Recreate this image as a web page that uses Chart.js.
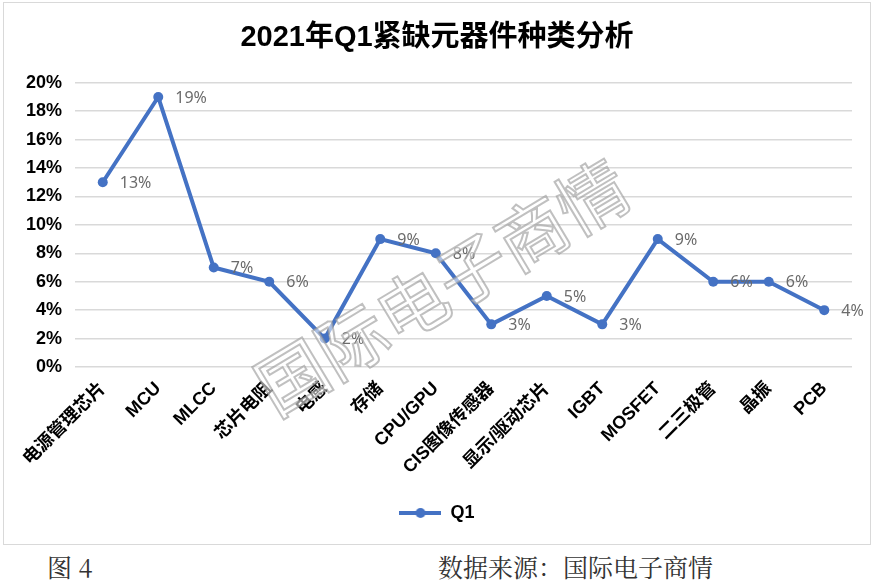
<!DOCTYPE html>
<html lang="zh">
<head>
    <meta charset="UTF-8">
    <title>2021年Q1紧缺元器件种类分析</title>
    <script src="https://cdn.jsdelivr.net/npm/chart.js"></script>
    <style>
        body { margin: 0; background: #fff; }
        #box { position: absolute; left: 3px; top: 2px; width: 866px; height: 541px; border: 1px solid #d9d9d9; }
        .foot { position: absolute; top: 548px; font-family: "Noto Serif CJK SC", "Noto Sans CJK SC", serif; font-size: 25px; color: #333; }
    </style>
</head>
<body>
<div id="box"><canvas id="myChart"></canvas></div>
<div class="foot" style="left:47px;">图 4</div>
<div class="foot" style="left:438px;">数据来源：国际电子商情</div>
<script>
    const categories = ['电源管理芯片', 'MCU', 'MLCC', '芯片电阻', '电感', '存储', 'CPU/GPU', 'CIS图像传感器', '显示/驱动芯片', 'IGBT', 'MOSFET', '二三极管', '晶振', 'PCB'];
    const q1 = [13, 19, 7, 6, 2, 9, 8, 3, 5, 3, 9, 6, 6, 4];
    const yTicks = [0, 2, 4, 6, 8, 10, 12, 14, 16, 18, 20];

    const cjk = '"Liberation Sans", "Noto Sans CJK SC", sans-serif';
    const blue = '#4472C4';

    // legend marker: line with a dot
    const marker = document.createElement('canvas');
    marker.width = 42; marker.height = 12;
    const m = marker.getContext('2d');
    m.strokeStyle = blue; m.lineWidth = 4;
    m.beginPath(); m.moveTo(0, 6); m.lineTo(42, 6); m.stroke();
    m.fillStyle = blue;
    m.beginPath(); m.arc(21, 6, 5, 0, Math.PI * 2); m.fill();

    const valueLabels = {
        id: 'valueLabels',
        afterDatasetsDraw(chart) {
            const ctx = chart.ctx;
            const meta = chart.getDatasetMeta(0);
            ctx.save();
            ctx.font = '16px "Noto Sans", sans-serif';
            ctx.fillStyle = '#6b6b6b';
            ctx.textAlign = 'left';
            ctx.textBaseline = 'middle';
            meta.data.forEach((pt, i) => {
                ctx.fillText(q1[i] + '%', pt.x + 17, pt.y + 1);
            });
            ctx.restore();
        }
    };

    const watermark = {
        id: 'watermark',
        afterDatasetsDraw(chart) {
            const ctx = chart.ctx;
            ctx.save();
            ctx.translate(438, 284);
            ctx.rotate(-31 * Math.PI / 180);
            ctx.font = '70px "Noto Sans CJK SC", sans-serif';
            ctx.textAlign = 'center';
            ctx.textBaseline = 'middle';
            ctx.lineWidth = 2;
            ctx.strokeStyle = 'rgba(150,150,150,0.6)';
            ctx.fillStyle = 'rgba(255,255,255,0.55)';
            ctx.fillText('国际电子商情', 0, 0);
            ctx.strokeText('国际电子商情', 0, 0);
            ctx.restore();
        }
    };

    const ctx = document.getElementById('myChart').getContext('2d');
    const chart = new Chart(ctx, {
        type: 'line',
        data: {
            labels: categories,
            datasets: [{
                label: 'Q1',
                data: q1,
                borderColor: blue,
                backgroundColor: blue,
                borderWidth: 4,
                pointRadius: 5,
                pointBorderWidth: 0,
                pointHoverRadius: 5,
                tension: 0
            }]
        },
        options: {
            responsive: true,
            maintainAspectRatio: false,
            animation: false,
            layout: { padding: { left: 18, right: 18, top: 6, bottom: 12 } },
            scales: {
                x: {
                    offset: true,
                    grid: { display: false },
                    border: { display: false },
                    afterFit: axis => { axis.height = 127; },
                    ticks: {
                        minRotation: 45,
                        maxRotation: 45,
                        color: '#000',
                        font: { family: cjk, size: 18, weight: 'bold' }
                    }
                },
                y: {
                    min: 0,
                    max: 20,
                    afterBuildTicks: axis => { axis.ticks = yTicks.map(v => ({ value: v })); },
                    afterFit: axis => { axis.width = 53; },
                    grid: { color: '#d9d9d9', lineWidth: 1.5, drawTicks: false },
                    border: { display: false },
                    ticks: {
                        padding: 13,
                        color: '#000',
                        font: { family: cjk, size: 18, weight: 'bold' },
                        callback: v => v + '%'
                    }
                }
            },
            plugins: {
                title: {
                    display: true,
                    text: '2021年Q1紧缺元器件种类分析',
                    color: '#000',
                    font: { family: cjk, size: 29, weight: 'bold' },
                    padding: { top: 12, bottom: 27 }
                },
                legend: {
                    position: 'bottom',
                    labels: {
                        color: '#000',
                        font: { family: cjk, size: 18, weight: 'bold' },
                        usePointStyle: true,
                        pointStyle: marker,
                        pointStyleWidth: 42,
                        padding: 10
                    }
                },
                tooltip: { enabled: false }
            }
        },
        plugins: [valueLabels, watermark]
    });
</script>
</body>
</html>
